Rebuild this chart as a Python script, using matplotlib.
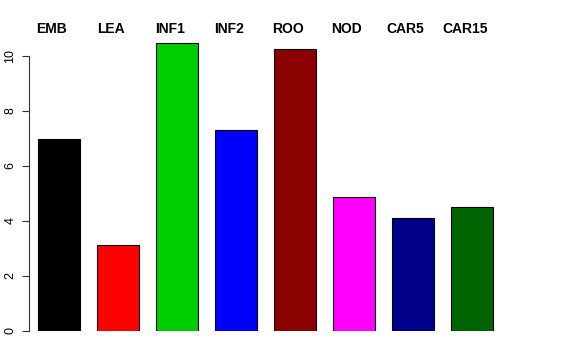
import numpy as np
from matplotlib import pyplot as plt

plt.rcParams['font.family'] = ['Liberation Sans', 'DejaVu Sans']

#Data
labels = ['EMB', 'LEA', 'INF1', 'INF2', 'ROO', 'NOD', 'CAR5', 'CAR15']
values = [6.98, 3.13, 10.47, 7.31, 10.25, 4.87, 4.11, 4.51]
colors = ['#000000', '#ff0000', '#00cd00', '#0000ff', '#8b0000', '#ff00ff', '#00008b', '#006400']

W, H = 576, 360
fig = plt.figure(figsize=(W/100, H/100), dpi=100)
# axes box in pixels: left 29, right 530, bottom 331, top 42
ax = fig.add_axes([29/W, (H-331)/H, (530-29)/W, (331-42)/H])

x = np.arange(len(values))
ax.bar(x, values, width=0.7, color=colors, edgecolor='black', linewidth=0.8)

ax.set_xlim(-0.51, -0.51 + (530-29)/59)
ax.set_ylim(0, 10.5)

#labels sit a little left of the bar centres
for i, lab in enumerate(labels):
    ax.text(x[i] - 0.125, 10.98, lab, ha='center', va='center', fontsize=10,
            fontweight='bold', clip_on=False)

for s in ['top', 'right', 'bottom']:
    ax.spines[s].set_visible(False)
ax.spines['left'].set_bounds(0, 10)
ax.spines['left'].set_color('#333333')
ax.set_xticks([])
ax.set_yticks([0, 2, 4, 6, 8, 10])
ax.tick_params(axis='y', length=5, width=0.8, labelsize=9, pad=4, colors='#333333', labelcolor='black')
for t in ax.get_yticklabels():
    t.set_rotation(90)
    t.set_va('center')

fig.savefig('out.png', dpi=100)
